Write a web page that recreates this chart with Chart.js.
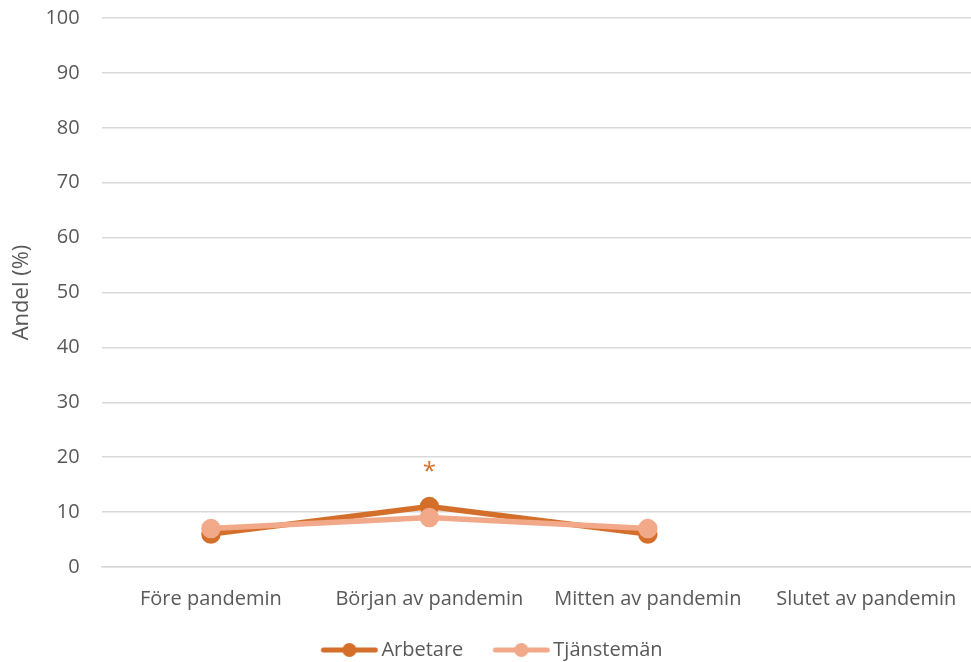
<!DOCTYPE html>
<html>
<head>
<meta charset="utf-8">
<script src="https://cdn.jsdelivr.net/npm/chart.js@4"></script>
<style>
  html, body { margin: 0; padding: 0; background: #fff; overflow: hidden; }
  #wrap { width: 988px; height: 662px; }
</style>
</head>
<body>
<div id="wrap"><canvas id="chart"></canvas></div>
<script>
// Chart data
const categories = ['Före pandemin', 'Början av pandemin', 'Mitten av pandemin', 'Slutet av pandemin'];
const arbetare = [6, 11, 6, null];
const tjansteman = [7, 9, 7, null];
const markers = ['', '*', '', ''];   // significance marks for Arbetare
const yTicks = [0, 10, 20, 30, 40, 50, 60, 70, 80, 90, 100];

const dark = '#D46F2B';
const light = '#F1A98A';
const textColor = '#595959';
const none = 'rgba(0,0,0,0)';

// legend icon: line with a dot, pushed to the right end of the image
function legendIcon(color) {
    const c = document.createElement('canvas');
    c.width = 82; c.height = 16;
    const g = c.getContext('2d');
    const x0 = 24;
    g.strokeStyle = color;
    g.lineWidth = 5;
    g.lineCap = 'round';
    g.beginPath();
    g.moveTo(x0 + 3, 8); g.lineTo(x0 + 55, 8);
    g.stroke();
    g.fillStyle = color;
    g.beginPath();
    g.arc(x0 + 29, 8, 7, 0, Math.PI * 2);
    g.fill();
    return c;
}

const markerPlugin = {
    id: 'markers',
    afterDatasetsDraw(chart) {
        const meta = chart.getDatasetMeta(0);
        const ctx = chart.ctx;
        ctx.save();
        ctx.fillStyle = dark;
        ctx.font = '24px "Open Sans"';
        ctx.textAlign = 'center';
        ctx.textBaseline = 'middle';
        markers.forEach((m, i) => {
            if (!m) return;
            const pt = meta.data[i];
            ctx.fillText(m, pt.x, pt.y - 34);
        });
        ctx.restore();
    }
};

// nudge the legend a bit to the left
const legendShift = {
    id: 'legendShift',
    afterLayout(chart) {
        if (!chart.legend) return;
        chart.legend.left -= 13;
        chart.legend.right -= 13;
    }
};

new Chart(document.getElementById('chart'), {
    type: 'line',
    data: {
        labels: categories,
        datasets: [
            {
                label: 'Arbetare',
                data: arbetare,
                borderColor: dark,
                backgroundColor: dark,
                borderWidth: 5.5,
                pointRadius: 7,
                pointHoverRadius: 7,
                order: 2
            },
            {
                label: 'Tjänstemän',
                data: tjansteman,
                borderColor: light,
                backgroundColor: light,
                borderWidth: 5.5,
                pointRadius: 7,
                pointHoverRadius: 7,
                order: 1
            }
        ]
    },
    options: {
        responsive: true,
        maintainAspectRatio: false,
        animation: false,
        layout: { padding: { top: 18, right: 0, left: 4, bottom: -8 } },
        scales: {
            x: {
                offset: true,
                // invisible tick marks give the label gap without doubling it
                grid: { color: none, tickColor: none, drawTicks: true, tickLength: 3 },
                border: { color: '#d9d9d9', width: 1.5 },
                ticks: {
                    color: textColor,
                    font: { family: 'Open Sans', size: 20 },
                    padding: 17
                }
            },
            y: {
                min: 0,
                max: 100,
                afterBuildTicks: axis => { axis.ticks = yTicks.map(v => ({ value: v })); },
                grid: { color: '#d9d9d9', lineWidth: 1.5, drawTicks: true, tickLength: 22, tickColor: none },
                border: { display: false },
                ticks: {
                    color: textColor,
                    font: { family: 'Open Sans', size: 20 },
                    padding: 0
                },
                title: {
                    display: true,
                    text: 'Andel (%)',
                    color: textColor,
                    font: { family: 'Open Sans', size: 22 },
                    padding: { top: 5, bottom: 10 }
                }
            }
        },
        plugins: {
            legend: {
                position: 'bottom',
                labels: {
                    color: textColor,
                    font: { family: 'Open Sans', size: 20 },
                    usePointStyle: true,
                    pointStyleWidth: 68,
                    padding: 12,
                    generateLabels: chart => chart.data.datasets.map((ds, i) => ({
                        text: ds.label,
                        fontColor: textColor,
                        pointStyle: legendIcon(ds.borderColor),
                        datasetIndex: i,
                        hidden: false,
                        lineWidth: 0
                    }))
                }
            },
            tooltip: { enabled: false }
        }
    },
    plugins: [markerPlugin, legendShift]
});
</script>
</body>
</html>
